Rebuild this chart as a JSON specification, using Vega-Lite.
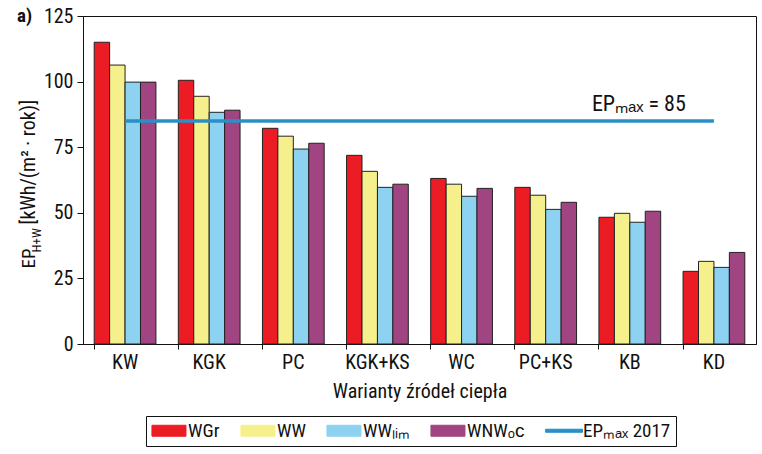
{
  "$schema": "https://vega.github.io/schema/vega-lite/v6.json",
  "width": 673,
  "height": 328,
  "autosize": {"type": "none"},
  "padding": {"left": 83, "top": 16, "right": 6, "bottom": 110},
  "background": "white",
  "title": {
    "text": "a)",
    "anchor": "start",
    "frame": "group",
    "fontSize": 19,
    "fontWeight": "bold",
    "color": "#111",
    "offset": 0,
    "dx": -66,
    "dy": 35,
    "baseline": "alphabetic"
  },
  "datasets": {
    "bars": [
      {"cat": "KW", "series": "WGr", "value": 115.0},
      {"cat": "KW", "series": "WW", "value": 106.3},
      {"cat": "KW", "series": "WWlim", "value": 99.8},
      {"cat": "KW", "series": "WNWoc", "value": 99.8},
      {"cat": "KGK", "series": "WGr", "value": 100.5},
      {"cat": "KGK", "series": "WW", "value": 94.4},
      {"cat": "KGK", "series": "WWlim", "value": 88.3},
      {"cat": "KGK", "series": "WNWoc", "value": 89.1},
      {"cat": "PC", "series": "WGr", "value": 82.2},
      {"cat": "PC", "series": "WW", "value": 79.2},
      {"cat": "PC", "series": "WWlim", "value": 74.3},
      {"cat": "PC", "series": "WNWoc", "value": 76.5},
      {"cat": "KGK+KS", "series": "WGr", "value": 71.9},
      {"cat": "KGK+KS", "series": "WW", "value": 65.8},
      {"cat": "KGK+KS", "series": "WWlim", "value": 59.7},
      {"cat": "KGK+KS", "series": "WNWoc", "value": 60.9},
      {"cat": "WC", "series": "WGr", "value": 63.1},
      {"cat": "WC", "series": "WW", "value": 60.9},
      {"cat": "WC", "series": "WWlim", "value": 56.3},
      {"cat": "WC", "series": "WNWoc", "value": 59.3},
      {"cat": "PC+KS", "series": "WGr", "value": 59.7},
      {"cat": "PC+KS", "series": "WW", "value": 56.7},
      {"cat": "PC+KS", "series": "WWlim", "value": 51.3},
      {"cat": "PC+KS", "series": "WNWoc", "value": 54.0},
      {"cat": "KB", "series": "WGr", "value": 48.3},
      {"cat": "KB", "series": "WW", "value": 49.8},
      {"cat": "KB", "series": "WWlim", "value": 46.4},
      {"cat": "KB", "series": "WNWoc", "value": 50.6},
      {"cat": "KD", "series": "WGr", "value": 27.7},
      {"cat": "KD", "series": "WW", "value": 31.5},
      {"cat": "KD", "series": "WWlim", "value": 29.2},
      {"cat": "KD", "series": "WNWoc", "value": 34.9}
    ],
    "limit": [
      {"cat": "KW", "series": "EPmax", "ep": 85},
      {"cat": "KGK", "series": "EPmax", "ep": 85},
      {"cat": "PC", "series": "EPmax", "ep": 85},
      {"cat": "KGK+KS", "series": "EPmax", "ep": 85},
      {"cat": "WC", "series": "EPmax", "ep": 85},
      {"cat": "PC+KS", "series": "EPmax", "ep": 85},
      {"cat": "KB", "series": "EPmax", "ep": 85},
      {"cat": "KD", "series": "EPmax", "ep": 85}
    ],
    "note": [
      {"cat": "KB", "ep": 85, "label": "EPₘₐₓ = 85"}
    ]
  },
  "config": {
    "font": "Liberation Sans Narrow, Arial Narrow, Roboto Condensed, sans-serif",
    "view": {"stroke": "#111", "strokeWidth": 1},
    "axis": {
      "grid": false,
      "labelColor": "#111",
      "titleColor": "#111",
      "domainColor": "#111",
      "tickColor": "#111",
      "titleFontWeight": "normal"
    }
  },
  "layer": [
    {
      "data": {"name": "bars"},
      "mark": {"type": "bar", "stroke": "#222", "strokeWidth": 1},
      "encoding": {
        "x": {
          "field": "cat",
          "type": "nominal",
          "sort": ["KW", "KGK", "PC", "KGK+KS", "WC", "PC+KS", "KB", "KD"],
          "scale": {"paddingInner": 0.266, "paddingOuter": 0.133},
          "axis": {
            "title": "Warianty źródeł ciepła",
            "labelAngle": 0,
            "bandPosition": 0,
            "tickSize": 5,
            "labelPadding": 3,
            "labelFontSize": 20,
            "titleFontSize": 20,
            "titleY": 53,
            "titleBaseline": "alphabetic"
          }
        },
        "xOffset": {
          "field": "series",
          "type": "nominal",
          "scale": {"domain": ["WGr", "WW", "WWlim", "WNWoc"], "paddingInner": 0, "paddingOuter": 0}
        },
        "y": {
          "field": "value",
          "type": "quantitative",
          "scale": {"domain": [0, 125], "nice": false},
          "axis": {
            "orient": "left",
            "values": [0, 25, 50, 75, 100, 125],
            "tickSize": 6,
            "labelPadding": 4,
            "labelFontSize": 20,
            "title": "EP",
            "titleFontSize": 19,
            "titleAngle": -90,
            "titleAlign": "left",
            "titleBaseline": "alphabetic",
            "titleX": -49,
            "titleY": 252
          }
        },
        "color": {
          "field": "series",
          "type": "nominal",
          "scale": {
            "domain": ["WGr", "WW", "WWlim", "WNWoc", "EPmax"],
            "range": ["#EC1C24", "#F6F08C", "#8DD3F1", "#A04482", "#2A8FC6"]
          },
          "legend": {
            "title": null,
            "orient": "none",
            "legendX": 63,
            "legendY": 400,
            "direction": "horizontal",
            "columns": 5,
            "padding": 5,
            "strokeColor": "#111",
            "fillColor": "white",
            "labelFontSize": 19,
            "labelColor": "#111",
            "labelOffset": 18,
            "columnPadding": 18,
            "symbolSize": 324,
            "symbolOpacity": 1,
            "symbolStrokeWidth": 1,
            "symbolStrokeColor": {"expr": "datum.value === 'EPmax' ? '#2A8FC6' : '#222'"},
            "symbolType": {"expr": "datum.value === 'EPmax' ? 'M-1.1,-0.17L3,-0.17L3,0.17L-1.1,0.17Z' : 'M-0.95,-0.61L2.83,-0.61L2.83,0.61L-0.95,0.61Z'"},
            "labelExpr": "datum.value === 'WWlim' ? 'WWₗᵢₘ' : datum.value === 'WNWoc' ? 'WNWₒᴄ' : datum.value === 'EPmax' ? 'EPₘₐₓ 2017' : datum.label"
          }
        }
      }
    },
    {
      "data": {"name": "limit"},
      "mark": {"type": "line", "strokeWidth": 3.5},
      "encoding": {
        "x": {
          "field": "cat",
          "type": "nominal",
          "sort": ["KW", "KGK", "PC", "KGK+KS", "WC", "PC+KS", "KB", "KD"]
        },
        "y": {
          "field": "ep",
          "type": "quantitative",
          "scale": {"domain": [0, 125], "nice": false},
          "axis": {
            "orient": "left",
            "labels": false,
            "ticks": false,
            "domain": false,
            "title": "H+W",
            "titleFontSize": 13,
            "titleAngle": -90,
            "titleAlign": "left",
            "titleBaseline": "alphabetic",
            "titleX": -43,
            "titleY": 236
          }
        },
        "color": {"field": "series", "type": "nominal", "legend": null}
      }
    },
    {
      "data": {"name": "note"},
      "mark": {"type": "text", "fontSize": 22, "align": "center", "baseline": "alphabetic", "dx": 9, "dy": -10, "color": "#111"},
      "encoding": {
        "x": {
          "field": "cat",
          "type": "nominal",
          "sort": ["KW", "KGK", "PC", "KGK+KS", "WC", "PC+KS", "KB", "KD"]
        },
        "y": {
          "field": "ep",
          "type": "quantitative",
          "scale": {"domain": [0, 125], "nice": false},
          "axis": {
            "orient": "left",
            "labels": false,
            "ticks": false,
            "domain": false,
            "title": "[kWh/(m² · rok)]",
            "titleFontSize": 20,
            "titleAngle": -90,
            "titleAlign": "left",
            "titleBaseline": "alphabetic",
            "titleX": -49,
            "titleY": 208
          }
        },
        "text": {"field": "label"}
      }
    }
  ],
  "resolve": {"scale": {"y": "independent"}, "axis": {"y": "independent"}}
}
